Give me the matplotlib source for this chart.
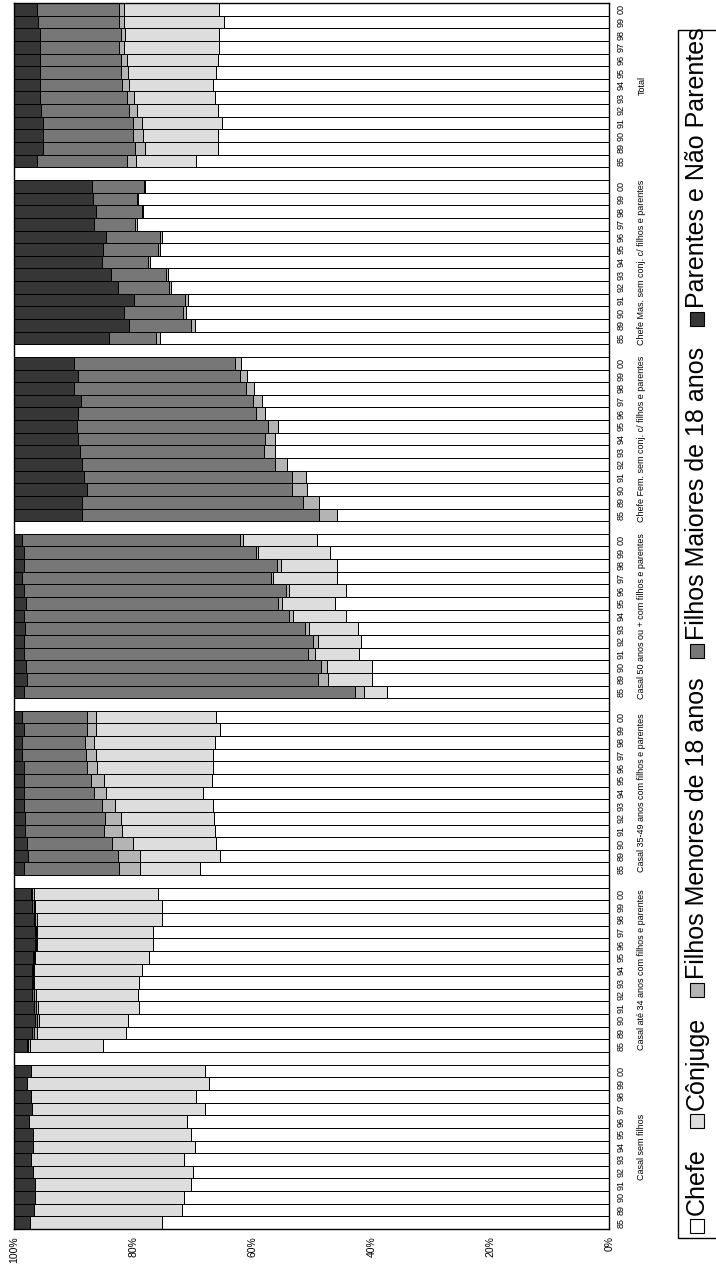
import numpy as np
import matplotlib
matplotlib.use('Agg')
import matplotlib.pyplot as plt
from matplotlib.patches import Rectangle
from matplotlib.transforms import blended_transform_factory

plt.rcParams['font.family'] = ['Liberation Sans', 'DejaVu Sans']

years = ['85', '89', '90', '91', '92', '93', '94', '95', '96', '97', '98', '99', '00']
groups = ['Casal sem filhos',
          'Casal até 34 anos com filhos e parentes',
          'Casal 35-49 anos com filhos e parentes',
          'Casal 50 anos ou + com filhos e parentes',
          'Chefe Fem. sem conj. c/ filhos e parentes',
          'Chefe Mas. sem conj. c/ filhos e parentes',
          'Total']
series = ['Chefe', 'Cônjuge', 'Filhos Menores de 18 anos',
          'Filhos Maiores de 18 anos', 'Parentes e Não Parentes']

# shares (%) per group, years 85..00
chefe = [
    [75.2, 71.8, 71.5, 70.3, 70.0, 71.5, 69.6, 70.3, 70.9, 68.0, 69.4, 67.3, 68.0],
    [85.0, 81.2, 80.8, 79.0, 79.2, 79.0, 78.5, 77.4, 76.6, 76.6, 75.2, 75.1, 75.9],
    [68.7, 65.4, 66.0, 66.2, 66.4, 66.6, 68.3, 66.7, 66.6, 66.6, 66.2, 65.4, 66.0],
    [37.3, 39.8, 39.9, 42.0, 41.8, 42.2, 44.2, 46.1, 44.3, 45.8, 45.8, 47.0, 49.1],
    [45.7, 48.8, 50.8, 50.9, 54.1, 56.2, 56.1, 55.6, 57.9, 58.3, 59.7, 60.8, 61.8],
    [75.5, 69.6, 71.1, 70.7, 73.6, 74.2, 77.2, 75.4, 75.2, 79.4, 78.3, 79.1, 78.0],
    [69.4, 65.7, 65.8, 65.0, 65.7, 66.2, 66.6, 66.1, 65.8, 65.6, 65.5, 64.8, 65.5],
]
conjuge = [
    [22.1, 24.8, 24.9, 26.1, 26.8, 25.7, 27.2, 26.5, 26.6, 29.0, 27.7, 30.6, 29.2],
    [12.3, 15.0, 15.0, 16.9, 17.1, 17.6, 18.1, 19.0, 19.5, 19.5, 21.0, 21.4, 20.7],
    [10.1, 13.5, 14.1, 15.7, 15.6, 16.4, 16.2, 18.2, 19.4, 19.6, 20.3, 20.9, 20.3],
    [4.0, 7.4, 7.5, 7.5, 7.2, 8.2, 9.0, 8.9, 9.5, 10.7, 9.4, 12.1, 12.5],
    [0, 0, 0, 0, 0, 0, 0, 0, 0, 0, 0, 0, 0],
    [0, 0, 0, 0, 0, 0, 0, 0, 0, 0, 0, 0, 0],
    [10.1, 12.3, 12.5, 13.5, 13.6, 13.7, 14.1, 14.8, 15.3, 16.0, 15.8, 16.8, 16.1],
]
filhos_menores = [
    [0, 0, 0, 0, 0, 0, 0, 0, 0, 0, 0, 0, 0],
    [0.3, 0.4, 0.4, 0.4, 0.3, 0.2, 0.2, 0.2, 0.2, 0.2, 0.2, 0.2, 0.3],
    [3.5, 3.6, 3.4, 3.0, 2.7, 2.2, 2.1, 2.1, 1.8, 1.7, 1.6, 1.5, 1.4],
    [1.4, 1.7, 1.1, 1.1, 0.8, 0.7, 0.6, 0.6, 0.6, 0.4, 0.6, 0.3, 0.4],
    [3.1, 2.7, 2.6, 2.4, 2.0, 1.8, 1.7, 1.8, 1.5, 1.5, 1.4, 1.2, 1.1],
    [0.6, 0.6, 0.6, 0.6, 0.4, 0.3, 0.3, 0.4, 0.3, 0.2, 0.2, 0.2, 0.2],
    [1.6, 1.7, 1.7, 1.6, 1.4, 1.1, 1.1, 1.1, 0.9, 0.8, 0.7, 0.7, 0.7],
]
filhos_maiores = [
    [0, 0, 0, 0, 0, 0, 0, 0, 0, 0, 0, 0, 0],
    [0.3, 0.3, 0.3, 0.3, 0.3, 0.2, 0.2, 0.2, 0.2, 0.2, 0.2, 0.3, 0.3],
    [16.1, 15.1, 14.4, 13.3, 13.4, 13.1, 11.7, 11.4, 10.6, 10.7, 10.5, 10.6, 11.0],
    [55.6, 48.9, 49.5, 47.7, 48.6, 47.1, 44.5, 42.4, 43.9, 41.7, 42.5, 39.0, 36.6],
    [39.7, 37.1, 34.4, 35.0, 32.4, 30.9, 31.4, 32.1, 29.9, 28.9, 28.9, 27.3, 27.1],
    [8.0, 10.5, 9.8, 8.6, 8.6, 9.2, 7.7, 9.2, 9.1, 6.9, 7.8, 7.4, 8.7],
    [15.1, 15.5, 15.2, 15.1, 14.7, 14.6, 13.9, 13.7, 13.7, 13.3, 13.7, 13.6, 13.8],
]
parentes = [
    [2.7, 3.4, 3.6, 3.6, 3.2, 2.8, 3.2, 3.2, 2.5, 3.0, 2.9, 2.1, 2.8],
    [2.1, 3.1, 3.5, 3.4, 3.1, 3.0, 3.0, 3.2, 3.5, 3.5, 3.4, 3.0, 2.8],
    [1.6, 2.4, 2.1, 1.8, 1.9, 1.7, 1.7, 1.6, 1.6, 1.4, 1.4, 1.6, 1.3],
    [1.7, 2.2, 2.0, 1.7, 1.6, 1.8, 1.7, 2.0, 1.7, 1.4, 1.7, 1.6, 1.4],
    [11.5, 11.4, 12.2, 11.7, 11.5, 11.1, 10.8, 10.5, 10.7, 11.3, 10.0, 10.7, 10.0],
    [15.9, 19.3, 18.5, 20.1, 17.4, 16.3, 14.8, 15.0, 15.4, 13.5, 13.7, 13.3, 13.1],
    [3.8, 4.8, 4.8, 4.8, 4.6, 4.4, 4.3, 4.3, 4.3, 4.3, 4.3, 4.1, 3.9],
]

colors = ['#ffffff', '#dddddd', '#b4b4b4', '#777777', '#363636']
data = [chefe, conjuge, filhos_menores, filhos_maiores, parentes]

W, H = 716, 1270
fig = plt.figure(figsize=(W / 100, H / 100), dpi=100)
ax = fig.add_axes([14 / W, 41 / H, 595.5 / W, 1226 / H])

step = len(years) + 1
ticks, ticklabels = [], []
for g in range(len(groups)):
    pos = np.arange(len(years)) + g * step
    left = np.zeros(len(years))
    for k in range(len(series)):
        vals = np.array(data[k][g], dtype=float)
        ax.barh(pos, vals, left=left, height=1.0, color=colors[k],
                edgecolor='black', linewidth=0.7)
        left += vals
    ticks += list(pos)
    ticklabels += years

ax.set_xlim(100, 0)
ax.set_ylim(-0.5, len(groups) * step - 1.5)
ax.set_xticks([0, 20, 40, 60, 80, 100])
ax.set_xticklabels(['0%', '20%', '40%', '60%', '80%', '100%'], rotation=90)
ax.tick_params(axis='x', length=0, pad=5, labelsize=7.5)
ax.yaxis.tick_right()
ax.set_yticks(ticks)
ax.set_yticklabels(ticklabels, rotation=90)
ax.tick_params(axis='y', length=0, pad=5, labelsize=6.5)
for lab in ax.get_yticklabels():
    lab.set_va('center')
for s in ax.spines.values():
    s.set_linewidth(1.0)

# group names
tr = blended_transform_factory(fig.transFigure, ax.transData)
for g, name in enumerate(groups):
    ax.text(642 / W, g * step + (len(years) - 1) / 2, name, transform=tr,
            rotation=90, ha='center', va='center', fontsize=6.5, clip_on=False)

# legend drawn by hand (rotated)
fig.add_artist(Rectangle((678 / W, 32 / H), 120 / W, 1208 / H, transform=fig.transFigure,
                         fill=False, edgecolor='black', linewidth=1.0))
renderer = fig.canvas.get_renderer()
y = 1270 - 1233
xc = 697
for k, name in enumerate(series):
    fig.add_artist(Rectangle(((xc - 7) / W, y / H), 14 / W, 14 / H, transform=fig.transFigure,
                             facecolor=colors[k], edgecolor='black', linewidth=0.8))
    t = fig.text(xc / W, (y + 18) / H, name, rotation=90, ha='center', va='bottom',
                 fontsize=18)
    bb = t.get_window_extent(renderer)
    y = bb.y1 + 20

fig.savefig('out.png', dpi=100)
